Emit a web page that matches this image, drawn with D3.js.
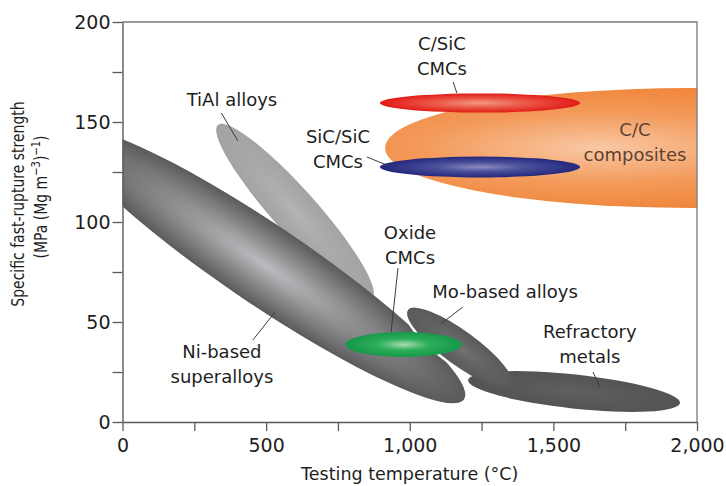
<!DOCTYPE html>
<html>
<head>
<meta charset="utf-8">
<script src="https://cdn.jsdelivr.net/npm/d3@7"></script>
<style>
  html, body { margin: 0; padding: 0; background: #fff; }
  svg { display: block; }
  text { font-family: "DejaVu Sans", sans-serif; fill: #1e1e1e; }
</style>
</head>
<body>
<div id="chart"></div>
<script>
// Material classes, drawn back to front
const regions = ['TiAl alloys', 'Ni-based superalloys', 'Refractory metals', 'Mo-based alloys',
  'Oxide CMCs', 'C/C composites', 'C/SiC CMCs', 'SiC/SiC CMCs'];

// Each region is an ellipse: the two ends of its long axis (temperature, strength)
// and the half thickness across that axis (in strength units)
const tempStart     = [332, -197, 1203,  994,   775,  914,   896,   896];
const strengthStart = [148.5, 145.6, 21, 56, 38.75, 137, 159.5, 127.5];
const tempEnd       = [869, 1189, 1941, 1356,  1182, 3037,  1593,  1593];
const strengthEnd   = [62, 11.4, 9.5, 18, 38.75, 137, 159.5, 127.5];
const halfWidth     = [11, 20, 8.5, 8.5, 6.25, 30, 4.8, 5.2];

// Labels: text lines, where the first line sits, and the leader line ends
const labelLines = [['TiAl alloys'], ['Ni-based', 'superalloys'], ['Refractory', 'metals'],
  ['Mo-based alloys'], ['Oxide', 'CMCs'], ['C/C', 'composites'], ['C/SiC', 'CMCs'], ['SiC/SiC', 'CMCs']];
const labelTemp     = [381, 346, 1627, 1332, 1001, 1784, 1112, 750];
const labelStrength = [158, 32, 42, 62, 91.5, 143, 186, 139.5];
const leaderFrom = [[344, 154.5], [454, 41], [1638, 25], [1185, 57.5], [959, 77], null, [1151, 170], [851, 132.5]];
const leaderTo   = [[402, 140.5], [531, 55], [1662, 17.5], [1112, 49.5], [935, 45], null, [1164, 164.5], [920, 128.5]];

// Axis ticks
const tempTicks = d3.range(0, 2001, 250);
const strengthTicks = d3.range(0, 201, 25);

// Look of each region
const looks = {
  'TiAl alloys':          { edge: '#a3a3a5', mid: '#aaaaac', center: '#b4b4b6' },
  'Ni-based superalloys': { edge: '#5a5a5c', mid: '#8e8e90', center: '#bcbcc0' },
  'Refractory metals':    { edge: '#545454', mid: '#595959', center: '#616161', halo: true },
  'Mo-based alloys':      { edge: '#5a5a5a', mid: '#646464', center: '#747474', halo: true },
  'Oxide CMCs':           { edge: '#17984a', mid: '#2cae5a', center: '#a9dcb2' },
  'C/C composites':       { edge: '#ef7a2a', mid: '#f39a5a', center: '#f9c8a4', fx: 0.35 },
  'C/SiC CMCs':           { edge: '#e11b18', mid: '#eb5a48', center: '#f29a84' },
  'SiC/SiC CMCs':         { edge: '#24287c', mid: '#4a4e9a', center: '#8c8cc0' }
};

const W = 726, H = 486;
const x = d3.scaleLinear().domain([0, 2000]).range([122.5, 697]);
const y = d3.scaleLinear().domain([0, 200]).range([422, 22]);

const svg = d3.select('#chart').append('svg')
  .attr('width', W).attr('height', H);

const defs = svg.append('defs');
defs.append('clipPath').attr('id', 'plot-clip')
  .append('rect')
  .attr('x', x(0)).attr('y', y(200))
  .attr('width', x(2000) - x(0)).attr('height', y(0) - y(200));

regions.forEach((name, i) => {
  const look = looks[name];
  const g = defs.append('radialGradient')
    .attr('id', 'grad-' + i)
    .attr('cx', look.fx || 0.5).attr('cy', 0.5).attr('r', 0.5)
    .attr('fx', look.fx || 0.5).attr('fy', 0.5);
  // C/C is cut by the frame, so its gradient needs a bigger spread
  if (look.fx) g.attr('r', 0.65);
  g.append('stop').attr('offset', '0%').attr('stop-color', look.center);
  g.append('stop').attr('offset', '45%').attr('stop-color', look.mid);
  g.append('stop').attr('offset', '100%').attr('stop-color', look.edge);
});

function ellipseGeom(i) {
  const x0 = x(tempStart[i]), y0 = y(strengthStart[i]);
  const x1 = x(tempEnd[i]), y1 = y(strengthEnd[i]);
  return {
    transform: `translate(${(x0 + x1) / 2},${(y0 + y1) / 2}) rotate(${Math.atan2(y1 - y0, x1 - x0) * 180 / Math.PI})`,
    rx: Math.hypot(x1 - x0, y1 - y0) / 2,
    ry: y(0) - y(halfWidth[i])
  };
}

// Regions
const shapes = svg.append('g').attr('clip-path', 'url(#plot-clip)');
regions.forEach((name, i) => {
  const e = ellipseGeom(i);
  if (name === 'Refractory metals') {
    // white halos that cut the metals free from the Ni band
    regions.forEach((n2, j) => {
      if (!looks[n2].halo) return;
      const h = ellipseGeom(j);
      shapes.append('ellipse')
        .attr('transform', h.transform).attr('rx', h.rx).attr('ry', h.ry)
        .attr('fill', '#fff').attr('stroke', '#fff').attr('stroke-width', 5);
    });
  }
  shapes.append('ellipse')
    .attr('transform', e.transform)
    .attr('rx', e.rx).attr('ry', e.ry)
    .attr('fill', `url(#grad-${i})`);
});

// Frame (top and right)
svg.append('path')
  .attr('d', `M${x(0)},${y(200)}H${x(2000)}V${y(0)}`)
  .attr('fill', 'none').attr('stroke', '#7a7a7a').attr('stroke-width', 1.3);

// Axes
const xAxis = d3.axisBottom(x)
  .tickValues(tempTicks)
  .tickFormat(d => d % 500 ? '' : d3.format(',')(d))
  .tickSize(9).tickSizeOuter(0).tickPadding(7.5);
const yAxis = d3.axisLeft(y)
  .tickValues(strengthTicks)
  .tickFormat(d => d % 50 ? '' : d)
  .tickSize(10).tickSizeOuter(0).tickPadding(2);

const gx = svg.append('g').attr('transform', `translate(0,${y(0)})`).call(xAxis);
const gy = svg.append('g').attr('transform', `translate(${x(0)},0)`).call(yAxis);
[gx, gy].forEach(g => {
  g.select('.domain').attr('stroke', '#5a5a5a').attr('stroke-width', 1.4);
  g.selectAll('.tick line').attr('stroke', '#5a5a5a').attr('stroke-width', 1.3);
  g.selectAll('.tick text')
    .attr('font-family', '"DejaVu Sans", sans-serif')
    .attr('font-size', 19).attr('fill', '#1e1e1e');
});

// Axis titles
svg.append('text')
  .attr('x', (x(0) + x(2000)) / 2).attr('y', 480)
  .attr('text-anchor', 'middle').attr('font-size', 17.5)
  .text('Testing temperature (°C)');

const yTitle = svg.append('text')
  .attr('transform', 'translate(24,204) scale(1.25,1) rotate(-90)')
  .attr('text-anchor', 'middle').attr('font-size', 14)
  .style('fill', '#1e1e1e');
yTitle.append('tspan').attr('x', 0).attr('y', 0).text('Specific fast-rupture strength');
const line2 = svg.append('text')
  .attr('transform', 'translate(47,197) scale(1.25,1) rotate(-90)')
  .attr('text-anchor', 'middle').attr('font-size', 14)
  .style('fill', '#1e1e1e');
line2.append('tspan').text('(MPa (Mg m');
line2.append('tspan').attr('dy', -6).attr('font-size', 10).text('−3');
line2.append('tspan').attr('dy', 6).text(')');
line2.append('tspan').attr('dy', -6).attr('font-size', 10).text('−1');
line2.append('tspan').attr('dy', 6).text(')');

// Leader lines and labels
const notes = svg.append('g');
regions.forEach((name, i) => {
  if (leaderFrom[i]) {
    notes.append('line')
      .attr('x1', x(leaderFrom[i][0])).attr('y1', y(leaderFrom[i][1]))
      .attr('x2', x(leaderTo[i][0])).attr('y2', y(leaderTo[i][1]))
      .attr('stroke', '#3a3a3a').attr('stroke-width', 1);
  }
  const t = notes.append('text')
    .attr('text-anchor', 'middle').attr('font-size', 18)
    .style('fill', name === 'C/C composites' ? '#5e4234' : '#1e1e1e');
  labelLines[i].forEach((line, k) => {
    t.append('tspan')
      .attr('x', x(labelTemp[i]))
      .attr('y', y(labelStrength[i]) + k * 25)
      .text(line);
  });
});
</script>
</body>
</html>
